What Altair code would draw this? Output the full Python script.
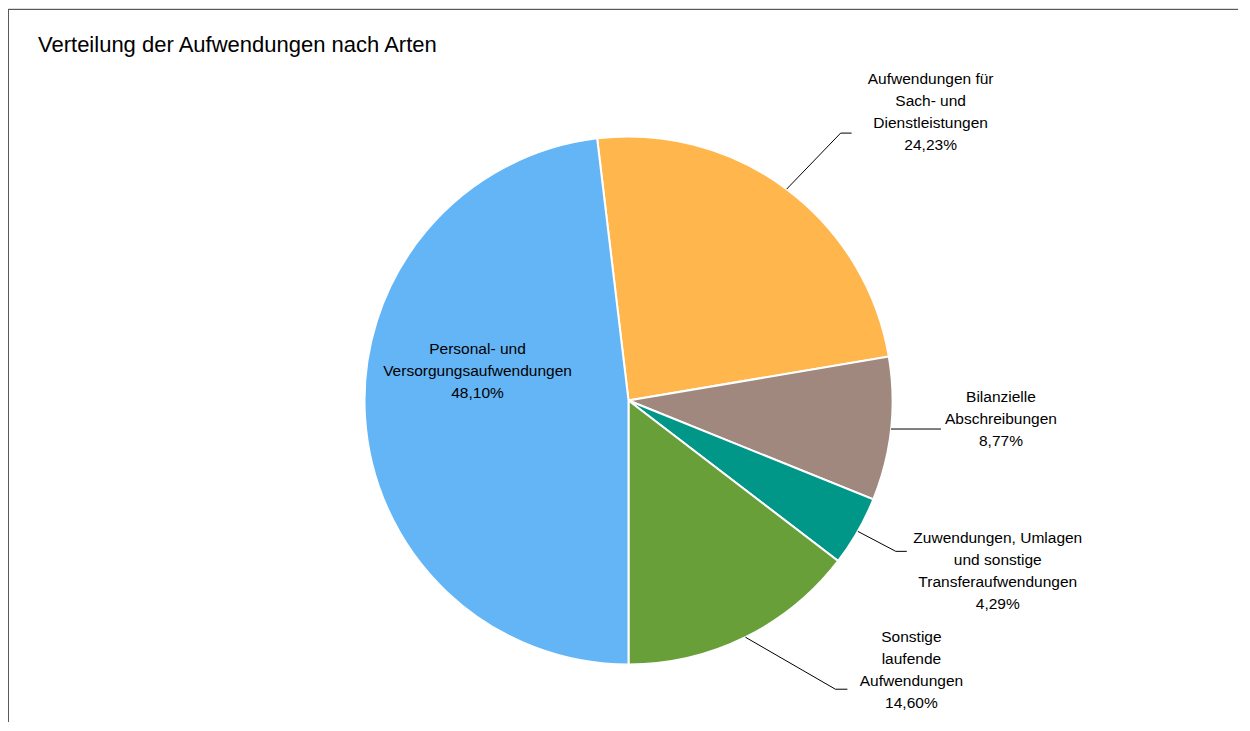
import math
import altair as alt
import pandas as pd

# ---- data ----
categories = [
    "Aufwendungen für Sach- und Dienstleistungen",
    "Bilanzielle Abschreibungen",
    "Zuwendungen, Umlagen und sonstige Transferaufwendungen",
    "Sonstige laufende Aufwendungen",
    "Personal- und Versorgungsaufwendungen",
]
values = [24.23, 8.77, 4.29, 14.60, 48.10]
label_lines = [
    ["Aufwendungen für", "Sach- und", "Dienstleistungen"],
    ["Bilanzielle", "Abschreibungen"],
    ["Zuwendungen, Umlagen", "und sonstige", "Transferaufwendungen"],
    ["Sonstige", "laufende", "Aufwendungen"],
    ["Personal- und", "Versorgungsaufwendungen"],
]
colors = ["#FFB74D", "#A1887F", "#009688", "#689F38", "#64B5F6"]
title_text = "Verteilung der Aufwendungen nach Arten"

# ---- layout ----
W, H = 1230, 714
CX, CY, R = 620.5, 392.5, 264
total = sum(values)
# Pie rotated so that the last slice (Personal) ends exactly at 6 o'clock
start = math.pi - 2 * math.pi * sum(values[:-1]) / total

# leader: (elbow dx, elbow dy, end dx) relative to slice edge point
leader_layout = [
    (54, -56, 11),
    (50, 0, 0),
    (38, 20, 11),
    (90, 52, 12),
    None,
]
# label: offset of first text line centre from slice edge point
label_layout = [
    (144, -110),
    (110, -32),
    (140, 7),
    (166, 0),
    None,
]
inside_label = (-151, -52)  # offset from centre for Personal label

def fmt(v):
    return f"{v:.2f}".replace(".", ",") + "%"

df = pd.DataFrame({
    "cat": categories,
    "value": values,
    "order": list(range(len(values))),
})

line_rows, text_rows = [], []
cum = 0.0
for i, v in enumerate(values):
    mid = start + 2 * math.pi * (cum + v / 2) / total
    cum += v
    ex, ey = CX + R * math.sin(mid), CY - R * math.cos(mid)
    text = "\n".join(label_lines[i] + [fmt(v)])
    if leader_layout[i] is None:
        text_rows.append({"cat": categories[i], "tx": CX + inside_label[0],
                          "ty": CY + inside_label[1], "text": text})
        continue
    dx, dy, ddx = leader_layout[i]
    pts = [(ex, ey), (ex + dx, ey + dy), (ex + dx + ddx, ey + dy)]
    for j, (px, py) in enumerate(pts):
        line_rows.append({"cat": categories[i], "seq": j, "px": px, "py": py})
    lx, ly = label_layout[i]
    text_rows.append({"cat": categories[i], "tx": ex + lx, "ty": ey + ly, "text": text})

lines_df = pd.DataFrame(line_rows)
text_df = pd.DataFrame(text_rows)

color_scale = alt.Scale(domain=categories, range=colors)

pie = alt.Chart(df).mark_arc(
    outerRadius=R, stroke="white", strokeWidth=2
).encode(
    theta=alt.Theta("value:Q", stack=True,
                    scale=alt.Scale(range=[start, start + 2 * math.pi])),
    order=alt.Order("order:Q"),
    color=alt.Color("cat:N", scale=color_scale, legend=None),
    x=alt.value(CX),
    y=alt.value(CY),
)

leaders = alt.Chart(lines_df).mark_line(color="#000000", strokeWidth=1).encode(
    x=alt.X("px:Q", scale=None),
    y=alt.Y("py:Q", scale=None),
    detail="cat:N",
    order="seq:Q",
)

labels = alt.Chart(text_df).mark_text(
    font="Liberation Sans", fontSize=15.5, color="#000000",
    lineBreak="\n", lineHeight=22, align="center", baseline="middle",
).encode(
    x=alt.X("tx:Q", scale=None),
    y=alt.Y("ty:Q", scale=None),
    text="text:N",
)

title = alt.Chart(pd.DataFrame({"t": [title_text]})).mark_text(
    font="Liberation Sans", fontSize=22, color="#000000",
    align="left", baseline="middle",
).encode(x=alt.value(30), y=alt.value(37), text="t:N")

frame_top = alt.Chart(pd.DataFrame({"a": [0]})).mark_rule(
    color="#595959", strokeWidth=1
).encode(x=alt.value(0), x2=alt.value(W), y=alt.value(1.5))
frame_left = alt.Chart(pd.DataFrame({"a": [0]})).mark_rule(
    color="#595959", strokeWidth=1
).encode(x=alt.value(0.5), y=alt.value(1), y2=alt.value(H))

chart = alt.layer(frame_top, frame_left, pie, leaders, labels, title).properties(
    width=W, height=H,
    autosize=alt.AutoSizeParams(type="none"),
    padding=0,
).configure_view(stroke=None).configure(background="white")

chart.save("out.html", embed_options={"renderer": "svg", "actions": False})
